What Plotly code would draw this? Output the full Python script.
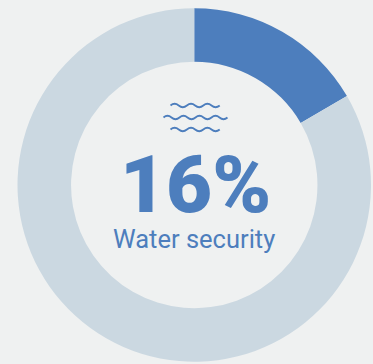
import plotly.graph_objects as go

labels = ["Water security", "Remainder"]
values = [16.6, 83.4]
colors = ["#4d7ebd", "#cbd8e1"]
big_label = "16%"
small_label = "Water security"
BG = "#eff1f1"
INK = "#4d7ebd"
W, H = 373, 364


def wave(x0, y0, humps, step=8.2, amp=3.4):
    d = f"M {x0} {y0}"
    x = x0
    for i in range(humps * 2):
        s = -amp if i % 2 == 0 else amp
        d += f" Q {x + step / 2} {y0 + s} {x + step} {y0}"
        x += step
    return d


fig = go.Figure(go.Pie(
    labels=labels, values=values, sort=False, direction="clockwise", rotation=0,
    hole=0.697, marker=dict(colors=colors, line=dict(width=0)),
    textinfo="none", showlegend=False,
    domain=dict(x=[17.5 / W, 371 / W], y=[1 - 362 / H, 1 - 8 / H]),
))
wave_line = dict(color=INK, width=1.8)
shapes = [
    dict(type="path", path=wave(170.5, 105.5, 3), xref="x", yref="y", line=wave_line),
    dict(type="path", path=wave(163.5, 117.5, 4, step=8), xref="x", yref="y", line=wave_line),
    dict(type="path", path=wave(170.5, 129.5, 3), xref="x", yref="y", line=wave_line),
]
fig.update_layout(
    width=W, height=H, margin=dict(l=0, r=0, t=0, b=0),
    paper_bgcolor=BG, plot_bgcolor="rgba(0,0,0,0)",
    xaxis=dict(range=[0, W], visible=False, fixedrange=True),
    yaxis=dict(range=[H, 0], visible=False, fixedrange=True),
    shapes=shapes,
    annotations=[
        dict(x=195, y=184, xref="x", yref="y", text=big_label, showarrow=False,
             xanchor="center", yanchor="middle", height=66,
             font=dict(family="Roboto", size=79.5, color=INK, weight=900)),
        dict(x=194, y=239, xref="x", yref="y", text=small_label, showarrow=False,
             xanchor="center", yanchor="middle",
             font=dict(family="Roboto", size=25.5, color=INK)),
    ],
)
fig.write_html(
    "out.html",
    config=dict(displayModeBar=False),
    post_script="document.body.style.margin='0';document.body.style.overflow='hidden';"
                "document.documentElement.style.background='" + BG + "';",
)
